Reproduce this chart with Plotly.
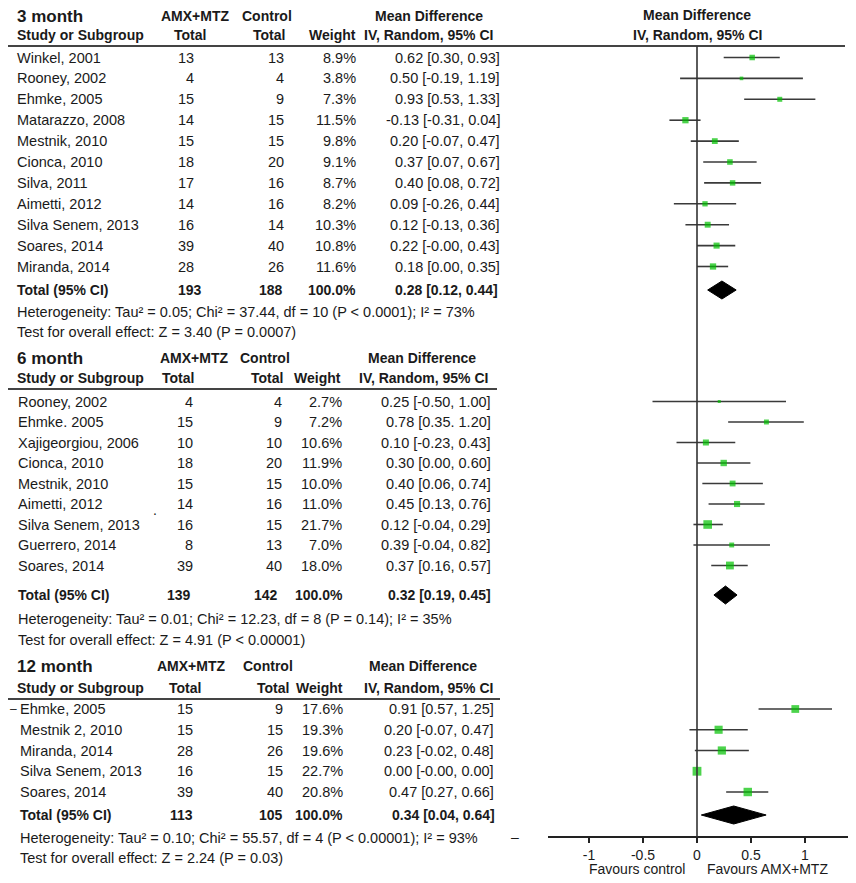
import plotly.graph_objects as go

W, H = 856, 883
OFF = 8                  # the page body margin; the figure sits OFF px in from the corner

# ── data ─────────────────────────────────────────────────────────────────────

m3_study = ["Winkel, 2001", "Rooney, 2002", "Ehmke, 2005", "Matarazzo, 2008", "Mestnik, 2010",
            "Cionca, 2010", "Silva, 2011", "Aimetti, 2012", "Silva Senem, 2013", "Soares, 2014",
            "Miranda, 2014"]
m3_amx = [13, 4, 15, 14, 15, 18, 17, 14, 16, 39, 28]
m3_ctrl = [13, 4, 9, 15, 15, 20, 16, 16, 14, 40, 26]
m3_weight = [8.9, 3.8, 7.3, 11.5, 9.8, 9.1, 8.7, 8.2, 10.3, 10.8, 11.6]
m3_md = [0.62, 0.50, 0.93, -0.13, 0.20, 0.37, 0.40, 0.09, 0.12, 0.22, 0.18]
m3_lo = [0.30, -0.19, 0.53, -0.31, -0.07, 0.07, 0.08, -0.26, -0.13, -0.0, 0.00]
m3_hi = [0.93, 1.19, 1.33, 0.04, 0.47, 0.67, 0.72, 0.44, 0.36, 0.43, 0.35]
m3_total = [193, 188]
m3_pooled = [0.28, 0.12, 0.44]
m3_het = "Heterogeneity: Tau² = 0.05; Chi² = 37.44, df = 10 (P < 0.0001); I² = 73%"
m3_test = "Test for overall effect: Z = 3.40 (P = 0.0007)"

m6_study = ["Rooney, 2002", "Ehmke. 2005", "Xajigeorgiou, 2006", "Cionca, 2010", "Mestnik, 2010",
            "Aimetti, 2012", "Silva Senem, 2013", "Guerrero, 2014", "Soares, 2014"]
m6_amx = [4, 15, 10, 18, 15, 14, 16, 8, 39]
m6_ctrl = [4, 9, 10, 20, 15, 16, 15, 13, 40]
m6_weight = [2.7, 7.2, 10.6, 11.9, 10.0, 11.0, 21.7, 7.0, 18.0]
m6_md = [0.25, 0.78, 0.10, 0.30, 0.40, 0.45, 0.12, 0.39, 0.37]
m6_lo = [-0.50, 0.35, -0.23, 0.00, 0.06, 0.13, -0.04, -0.04, 0.16]
m6_hi = [1.00, 1.20, 0.43, 0.60, 0.74, 0.76, 0.29, 0.82, 0.57]
m6_total = [139, 142]
m6_pooled = [0.32, 0.19, 0.45]
m6_het = "Heterogeneity: Tau² = 0.01; Chi² = 12.23, df = 8 (P = 0.14); I² = 35%"
m6_test = "Test for overall effect: Z = 4.91 (P < 0.00001)"

m12_study = ["Ehmke, 2005", "Mestnik 2, 2010", "Miranda, 2014", "Silva Senem, 2013", "Soares, 2014"]
m12_amx = [15, 15, 28, 16, 39]
m12_ctrl = [9, 15, 26, 15, 40]
m12_weight = [17.6, 19.3, 19.6, 22.7, 20.8]
m12_md = [0.91, 0.20, 0.23, 0.00, 0.47]
m12_lo = [0.57, -0.07, -0.02, -0.0, 0.27]
m12_hi = [1.25, 0.47, 0.48, 0.00, 0.66]
m12_total = [113, 105]
m12_pooled = [0.34, 0.04, 0.64]
m12_het = "Heterogeneity: Tau² = 0.10; Chi² = 55.57, df = 4 (P < 0.00001); I² = 93%"
m12_test = "Test for overall effect: Z = 2.24 (P = 0.03)"

tick_vals = [-1, -0.5, 0, 0.5, 1]
tick_text = ["-1", "-0.5", "0", "0.5", "1"]

# ── style ────────────────────────────────────────────────────────────────────

FONT = "Liberation Sans, Arial, sans-serif"
TXT = "#1a1a1a"
GREEN = "#00c000"
WHISKER = "#3a3a3a"
ZERO_PX = 697            # pixel column of the null line
PX_AXIS = 108            # px per unit on the printed axis (12 month panel)
PX_SMALL = 89            # px per unit used by the 3 and 6 month panels
AX_L, AX_R, AX_Y = 548, 850, 837
FW, FH = W - OFF, H - OFF


def px(x):
    """page pixel column -> paper fraction"""
    return (x - OFF) / FW


def ci_label(md, lo, hi, sep=", "):
    return f"{md:.2f} [{lo:.2f}{sep}{hi:.2f}]"


annotations = []


def txt(x, y, s, anchor="left", bold=False, size=14.5):
    annotations.append(dict(
        x=px(x), y=y, xref="paper", yref="y", text=f"<b>{s}</b>" if bold else s,
        xanchor=anchor, yanchor="middle", showarrow=False,
        font=dict(family=FONT, size=size, color=TXT),
    ))


sections = [
    dict(name="3 month", study=m3_study, amx=m3_amx, ctrl=m3_ctrl, weight=m3_weight,
         md=m3_md, lo=m3_lo, hi=m3_hi, total=m3_total, pooled=m3_pooled,
         het=m3_het, test=m3_test, xaxis="x2",
         title_y=16, head_y=35, line_y=46, line_r=845, row0=57.5, step=20.9,
         total_y=290, het_y=312, test_y=332,
         cx=dict(name=15, amx=196, ctrl=286, w=358, md=502,
                 t_amx=204, t_ctrl=285, t_w=358, t_md=500),
         hx=dict(amx=("center", 195), amx_t=("center", 190), ctrl=("center", 267),
                 ctrl_t=287, w=358, md=429, iv=428)),
    dict(name="6 month", study=m6_study, amx=m6_amx, ctrl=m6_ctrl, weight=m6_weight,
         md=m6_md, lo=m6_lo, hi=m6_hi, total=m6_total, pooled=m6_pooled,
         het=m6_het, test=m6_test, xaxis="x2",
         title_y=358, head_y=378, line_y=389, line_r=497, row0=401.5, step=20.5,
         total_y=595, het_y=619, test_y=640,
         cx=dict(name=16, amx=195, ctrl=284, w=344, md=493,
                 t_amx=193, t_ctrl=280, t_w=345, t_md=493),
         hx=dict(amx=("left", 158), amx_t=("left", 160), ctrl=("center", 265),
                 ctrl_t=285, w=343, md=422, iv=423)),
    dict(name="12 month", study=m12_study, amx=m12_amx, ctrl=m12_ctrl, weight=m12_weight,
         md=m12_md, lo=m12_lo, hi=m12_hi, total=m12_total, pooled=m12_pooled,
         het=m12_het, test=m12_test, xaxis="x",
         title_y=666, head_y=688, line_y=699, line_r=500, row0=709, step=20.75,
         total_y=815, het_y=838, test_y=858,
         cx=dict(name=18, amx=195, ctrl=285, w=345, md=496,
                 t_amx=195, t_ctrl=285, t_w=345, t_md=497),
         hx=dict(amx=("left", 155), amx_t=("left", 167), ctrl=("center", 268),
                 ctrl_t=291, w=345, md=423, iv=428)),
]

fig = go.Figure()
shapes = []

for sec in sections:
    cx, hx = sec["cx"], sec["hx"]
    ys = [sec["row0"] + sec["step"] * i for i in range(len(sec["study"]))]

    # header block
    txt(15, sec["title_y"], sec["name"], bold=True, size=17)
    txt(hx["amx"][1], sec["title_y"], "AMX+MTZ", anchor=hx["amx"][0], bold=True, size=14)
    txt(hx["ctrl"][1], sec["title_y"], "Control", anchor=hx["ctrl"][0], bold=True, size=14)
    txt(hx["md"], sec["title_y"], "Mean Difference", anchor="center", bold=True, size=14)
    txt(15, sec["head_y"], "Study or Subgroup", bold=True, size=14)
    txt(hx["amx_t"][1], sec["head_y"], "Total", anchor=hx["amx_t"][0], bold=True, size=14)
    txt(hx["ctrl_t"], sec["head_y"], "Total", anchor="right", bold=True, size=14)
    txt(hx["w"], sec["head_y"], "Weight", anchor="right", bold=True, size=14)
    txt(hx["iv"], sec["head_y"], "IV, Random, 95% CI", anchor="center", bold=True, size=14)
    shapes.append(dict(type="line", xref="paper", yref="y", x0=0, x1=px(sec["line_r"]),
                       y0=sec["line_y"], y1=sec["line_y"], line=dict(color="#444", width=2)))

    # study rows
    cis = [ci_label(m, l, h) for m, l, h in zip(sec["md"], sec["lo"], sec["hi"])]
    if sec["name"] == "6 month":
        cis[1] = ci_label(sec["md"][1], sec["lo"][1], sec["hi"][1], sep=". ")
    for i, y in enumerate(ys):
        txt(cx["name"], y, sec["study"][i])
        txt(cx["amx"], y, str(sec["amx"][i]), anchor="right")
        txt(cx["ctrl"], y, str(sec["ctrl"][i]), anchor="right")
        txt(cx["w"], y, f"{sec['weight'][i]:.1f}%", anchor="right")
        txt(cx["md"], y, cis[i], anchor="right")

    # total + footnotes
    ty = sec["total_y"]
    txt(cx["name"], ty, "Total (95% CI)", bold=True, size=14)
    txt(cx["t_amx"], ty, str(sec["total"][0]), anchor="right", bold=True, size=14)
    txt(cx["t_ctrl"], ty, str(sec["total"][1]), anchor="right", bold=True, size=14)
    txt(cx["t_w"], ty, "100.0%", anchor="right", bold=True, size=14)
    txt(cx["t_md"], ty, ci_label(*sec["pooled"]), anchor="right", bold=True, size=14)
    txt(cx["name"], sec["het_y"], sec["het"])
    txt(cx["name"], sec["test_y"], sec["test"])

    # forest: whiskers
    wx, wy = [], []
    for l, h, y in zip(sec["lo"], sec["hi"], ys):
        wx += [l, h, None]
        wy += [y, y, None]
    fig.add_trace(go.Scatter(x=wx, y=wy, mode="lines", xaxis=sec["xaxis"], yaxis="y",
                             line=dict(color=WHISKER, width=1.6), hoverinfo="skip",
                             showlegend=False))
    # forest: weighted squares
    fig.add_trace(go.Scatter(
        x=sec["md"], y=ys, mode="markers", xaxis=sec["xaxis"], yaxis="y",
        marker=dict(symbol="square", color=GREEN, line_width=0,
                    size=[1.85 * w ** 0.5 for w in sec["weight"]]),
        showlegend=False,
    ))
    # forest: pooled diamond
    est, lo, hi = sec["pooled"]
    fig.add_trace(go.Scatter(
        x=[lo, est, hi, est, lo], y=[ty, ty - 9, ty, ty + 9, ty],
        mode="lines", fill="toself", fillcolor="black", line=dict(color="black", width=1),
        xaxis=sec["xaxis"], yaxis="y", hoverinfo="skip", showlegend=False,
    ))

# forest headers
txt(ZERO_PX, 15, "Mean Difference", anchor="center", bold=True, size=14)
txt(ZERO_PX, 35, "IV, Random, 95% CI", anchor="center", bold=True, size=14)
txt(687, 869, "Favours control", anchor="right", size=14)
txt(705, 869, "Favours AMX+MTZ", anchor="left", size=14)

# small stray marks in the source image
txt(8, 709, "–", anchor="left", size=12)
txt(155, 510, ".", anchor="center", size=14)
txt(515, 837, "–", anchor="center", size=14)

# null line
shapes.append(dict(type="line", xref="x", yref="y", x0=0, x1=0, y0=46, y1=AX_Y,
                   line=dict(color="#333", width=1.6)))

dom = [px(AX_L), px(AX_R)]
rng_axis = [(AX_L - ZERO_PX) / PX_AXIS, (AX_R - ZERO_PX) / PX_AXIS]
rng_small = [(AX_L - ZERO_PX) / PX_SMALL, (AX_R - ZERO_PX) / PX_SMALL]
axis_pos = 1 - (AX_Y - OFF) / FH

fig.update_layout(
    width=FW, height=FH, margin=dict(l=0, r=0, t=0, b=0),
    paper_bgcolor="white", plot_bgcolor="white",
    font=dict(family=FONT, color=TXT),
    showlegend=False,
    annotations=annotations, shapes=shapes,
    xaxis=dict(domain=dom, range=rng_axis, anchor="free", position=axis_pos,
               showline=True, linecolor="#222", linewidth=1.6,
               ticks="outside", ticklen=5, tickwidth=1.6, tickcolor="#222",
               tickvals=tick_vals, ticktext=tick_text, tickfont=dict(size=14, color=TXT),
               showgrid=False, zeroline=False, fixedrange=True),
    xaxis2=dict(domain=dom, range=rng_small, overlaying="x", anchor="free", position=axis_pos,
                visible=False, fixedrange=True),
    xaxis3=dict(domain=dom, range=rng_axis, overlaying="x", anchor="free", position=axis_pos,
                showline=False, ticks="inside", ticklen=4, tickwidth=1.6, tickcolor="#222",
                tickvals=tick_vals, showticklabels=False, showgrid=False, zeroline=False,
                fixedrange=True),
    yaxis=dict(domain=[0, 1], range=[H, OFF], visible=False, fixedrange=True),
)

fig.write_html("out.html")
